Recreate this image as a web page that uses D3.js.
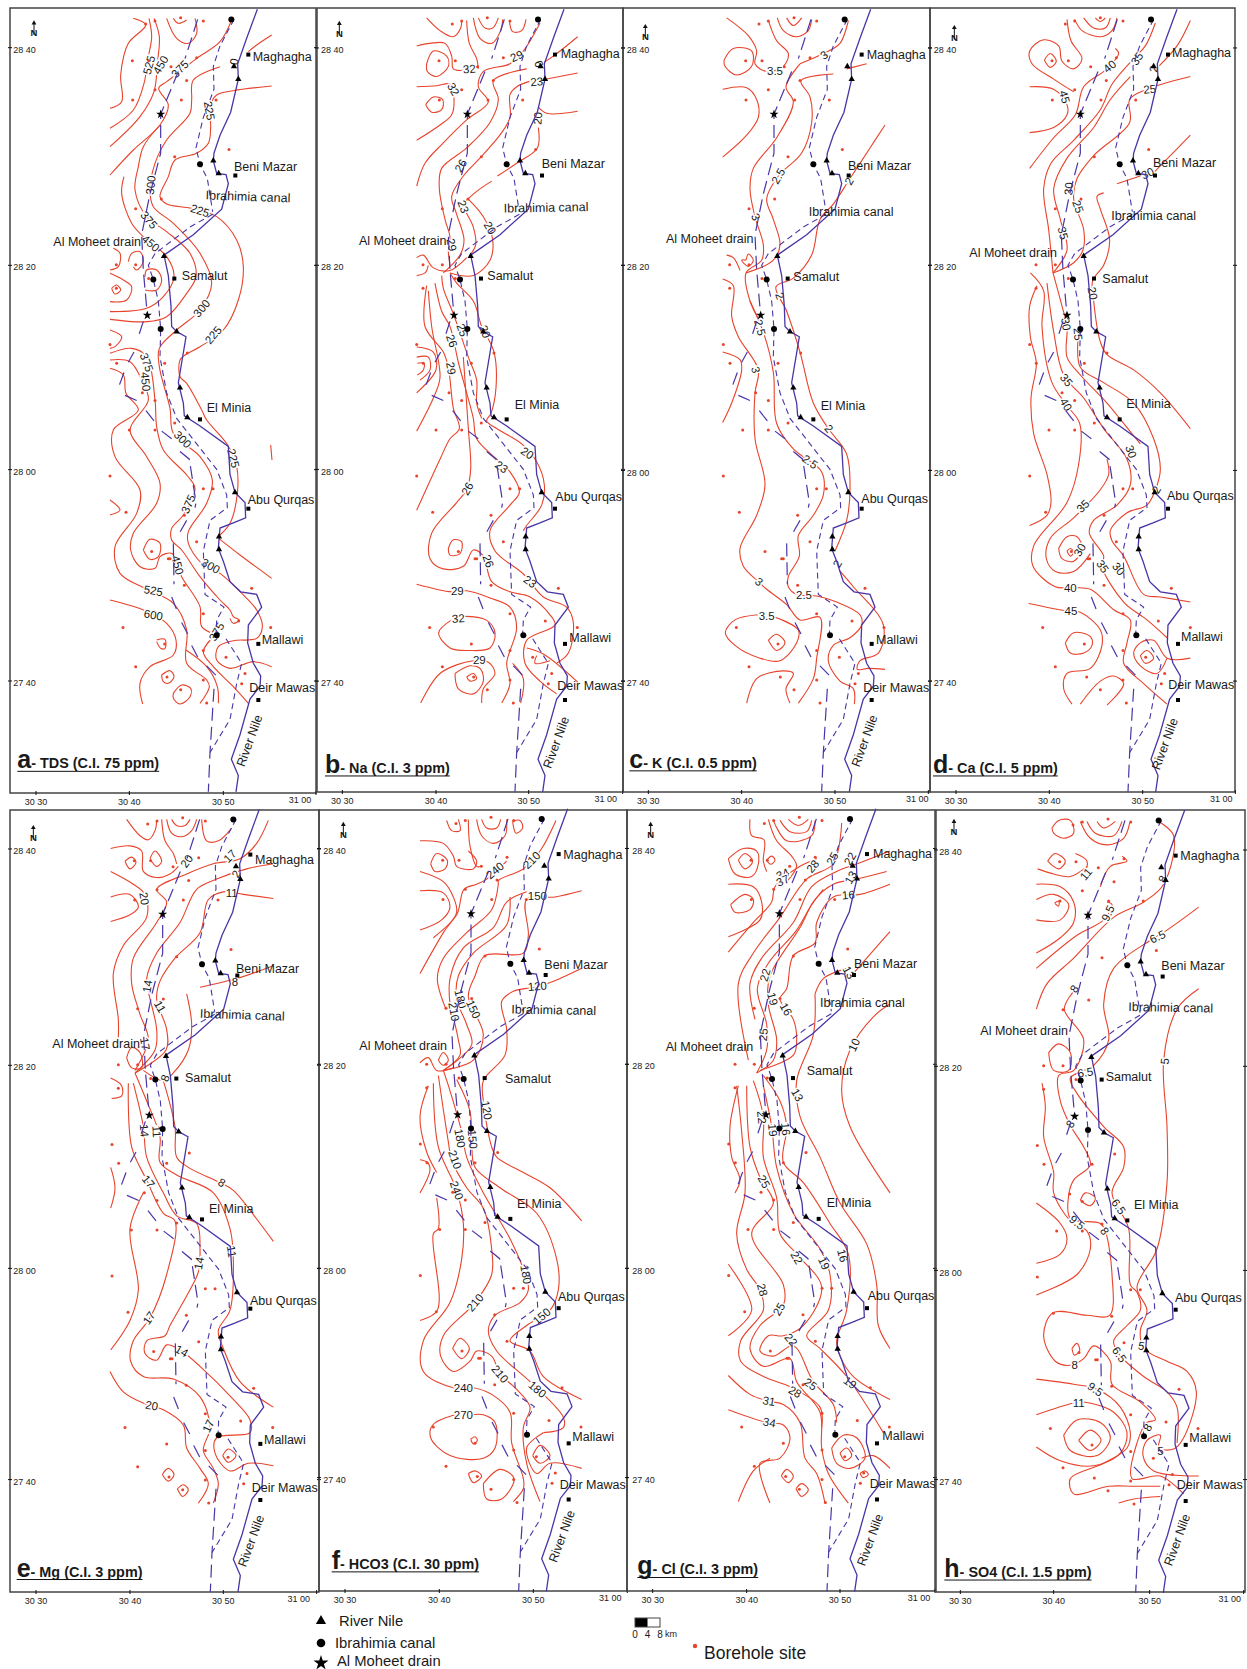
<!DOCTYPE html>
<html><head><meta charset="utf-8">
<script src="https://cdn.jsdelivr.net/npm/d3@7"></script>
<style>html,body{margin:0;background:#fff}svg{display:block}text{font-family:"Liberation Sans",Arial,sans-serif;fill:#1a1a1a}</style>
</head><body><svg id="c" width="1247" height="1669"></svg>
<script>
// ---------- shared base map, in survey-grid units ----------
const riverNile=[[762,18],[730,75],[703,125],[705,155],[682,220],[650,265],[632,300],[630,315],[640,340],[668,342],[675,360],[655,410],[570,460],[482,500],[495,540],[503,600],[505,640],[520,650],[548,660],[525,750],[540,790],[543,815],[590,835],[675,875],[680,930],[695,965],[725,985],[727,1015],[690,1025],[650,1035],[645,1075],[660,1100],[680,1140],[712,1160],[760,1165],[775,1190],[735,1225],[733,1260],[750,1300],[772,1325],[770,1345],[740,1370],[710,1440],[684,1488],[705,1520],[698,1552]];
const ibrahimiaNorth=[[692,38],[650,90],[630,130],[632,175],[600,230],[578,290],[590,322],[612,350],[628,415]];
const ibrahimiaMid=[[628,420],[560,445],[455,497],[435,520],[450,548],[465,590],[472,645],[470,700],[490,770],[520,820],[580,870],[640,920],[670,970],[672,995],[620,1020],[600,1080],[605,1165],[662,1190],[640,1215],[638,1245]];
const ibrahimiaSouth=[[668,1252],[715,1300],[700,1340],[680,1410],[620,1475]];
const drainSegments=[[[583,38],[545,115]],[[525,140],[472,224],[472,300],[440,380],[415,460],[420,530],[432,618]],[[420,630],[405,660]],[[392,690],[375,710]],[[362,730],[348,755]],[[365,775],[400,785]],[[428,805],[452,825]],[[475,845],[505,860]],[[530,885],[558,900],[578,985],[575,995]],[[550,1020],[528,1045]],[[510,1065],[512,1145]],[[505,1170],[520,1195]],[[535,1220],[555,1245]],[[565,1265],[585,1290]],[[610,1305],[640,1325]],[[632,1350],[620,1475],[615,1552]]];
const riverSites=[[692,130],[705,155],[630,315],[646,340],[482,502],[520,650],[530,760],[552,818],[695,965],[647,1052],[647,1077]];
const canalSites=[[684,38],[590,322],[450,548],[472,645],[640,1245]];
const drainSites=[[472,224],[432,618]];
const townSquares=[[735,107],[696,344],[513,546],[590,822],[735,997],[765,1262],[765,1372]];
const boreholes=[[427,47],[455,41],[532,35],[600,41],[387,119],[436,119],[503,131],[580,113],[550,158],[455,176],[388,196],[534,196],[638,196],[514,307],[677,293],[474,390],[397,409],[339,519],[397,519],[436,546],[339,565],[320,675],[340,712],[552,692],[484,712],[417,770],[455,785],[378,843],[455,843],[514,829],[320,933],[368,1004],[600,958],[629,958],[543,1010],[580,1062],[445,1081],[495,1095],[500,1095],[543,1147],[745,1153],[600,1203],[706,1217],[802,1230],[359,1230],[484,1262],[600,1275],[668,1288],[397,1307],[725,1320],[600,1333],[715,1340],[532,1352],[491,1327],[610,1378]];
const townNames=["Maghagha","Beni Mazar","Ibrahimia canal","Al Moheet drain","Samalut","El Minia","Abu Qurqas","Mallawi","Deir Mawas","River Nile"];
const lonLabels=["30 30","30 40","30 50","31 00"];
const latLabels=["28 40","28 20","28 00","27 40"];

// ---------- contour lines per panel (grid units) ----------
const contoursA=[
[[330,325],[365,305],[362,225],[385,130],[437,75],[400,55]],
[[330,385],[400,330],[432,250],[445,170],[455,110],[447,55]],
[[330,440],[420,350],[462,275],[472,190],[478,110],[462,55]],
[[330,525],[400,450],[480,375],[505,315],[476,265],[500,245],[540,215],[590,175],[660,125],[695,60]],
[[500,55],[530,115],[565,130],[590,100],[585,55]],
[[815,105],[770,135],[745,155]],
[[520,55],[535,70],[560,60]],
[[660,200],[580,240],[575,300],[570,340],[500,420],[465,490],[450,570],[460,620],[520,670],[600,760],[635,850],[600,930],[530,990],[478,1045],[478,1100],[510,1225],[520,1300],[600,1370],[637,1440],[620,1510],[565,1595],[565,1630],[605,1690],[660,1720],[720,1775],[770,1830],[787,1880],[770,1915],[700,1922],[655,1940],[650,1980],[690,2005],[760,1985],[815,2000]],
[[815,258],[700,272],[650,285],[630,320],[632,380],[625,430],[590,460],[525,480],[505,530],[480,590],[500,612],[575,625],[650,650],[710,720],[730,800],[715,900],[670,990],[600,1040],[555,1065],[540,1080],[540,1130],[560,1150],[605,1230],[620,1260],[683,1335],[710,1400],[712,1480],[690,1570],[660,1605]],
[[656,1615],[720,1665],[815,1735]],
[[372,530],[365,580],[395,670],[430,710],[500,770],[522,830],[490,890],[440,925],[330,935]],
[[480,375],[430,440],[415,500],[405,570],[440,650],[500,695],[570,760],[588,830],[560,880],[500,950],[440,965],[330,958]],
[[385,785],[395,760],[420,755],[430,785],[410,810],[400,800]],
[[330,810],[355,800],[360,760],[340,745]],
[[330,905],[380,900],[395,860],[370,840],[330,820]],
[[335,865],[350,855],[362,870],[345,882],[335,865]],
[[435,870],[470,870],[485,840],[470,810],[440,810],[435,830]],
[[330,990],[365,1010],[345,1040],[330,1045]],
[[330,1060],[395,1045],[440,1070],[465,1200],[470,1280],[490,1350],[560,1425],[585,1465],[550,1545],[515,1585],[515,1620],[545,1650],[600,1730],[660,1800],[690,1830],[700,1850],[718,1860],[700,1870],[690,1855]],
[[650,1900],[610,1955],[640,2000],[700,2060],[745,2110]],
[[330,1080],[390,1085],[425,1140],[445,1200],[390,1290],[440,1370],[480,1450],[470,1510],[400,1600],[392,1650],[420,1700],[465,1705],[480,1670],[515,1660],[530,1690],[545,1730],[600,1820],[605,1880],[650,1905]],
[[330,1105],[370,1125],[378,1180],[415,1230],[340,1290],[345,1370],[420,1470],[410,1540],[345,1640],[360,1720],[435,1765],[520,1810],[560,1890],[560,1990],[620,2040],[628,2060],[600,2110]],
[[558,1950],[620,2000],[652,2060],[655,2110]],
[[330,1800],[435,1832],[500,1870],[528,1920],[520,1965],[450,2000],[420,2050],[428,2112]],
[[430,1650],[450,1618],[480,1630],[475,1670],[450,1678],[430,1650]],
[[470,1920],[495,1918],[495,1945],[482,1945],[470,1925]],
[[485,2025],[510,2012],[522,2030],[505,2050],[490,2045],[485,2025]],
[[520,2080],[545,2055],[572,2065],[570,2090],[540,2112],[520,2095],[520,2080]],
[[330,1500],[360,1530],[330,1545]],
[[812,1335],[816,1380]]];
const contoursB=[
[[350,35],[390,60],[430,72],[452,55],[455,40]],
[[470,40],[478,85],[500,115],[505,135]],
[[490,35],[510,75],[545,85],[572,60],[578,38]],
[[505,35],[525,55],[548,55],[565,35]],
[[598,40],[608,62],[635,60],[648,38]],
[[350,125],[370,100],[410,110],[415,130],[380,150],[352,140],[350,125]],
[[320,90],[360,85],[405,85],[425,110],[430,135],[460,138],[505,130]],
[[320,170],[380,168],[420,165],[432,195],[425,225],[390,245],[320,275]],
[[347,205],[370,190],[398,195],[395,215],[365,220],[347,205]],
[[320,365],[345,320],[400,280],[470,235],[535,200],[505,170],[520,140],[600,125],[640,100],[690,45]],
[[650,135],[550,158],[565,195],[540,240],[470,290],[395,330],[388,370],[405,430],[420,465],[415,490],[420,520]],
[[665,158],[620,170],[600,185],[600,230],[575,260],[514,307],[460,345],[425,385],[440,420],[462,470],[450,500],[400,535]],
[[803,72],[730,110],[695,125]],[[803,143],[710,155]],[[803,218],[710,222],[685,210]],
[[685,250],[682,290],[620,320],[562,345]],
[[545,355],[500,375],[474,390],[460,400],[490,445],[497,480],[480,500]],
[[474,390],[520,425],[548,470],[540,510],[490,540],[420,535]],
[[320,505],[340,500],[370,525],[420,530],[470,505]],[[320,540],[345,535],[355,520]],
[[420,535],[440,555],[490,590],[515,640],[552,690],[558,760],[543,810],[530,825],[560,840],[635,870],[680,905],[703,950],[695,990],[650,1030],[640,1040]],
[[375,555],[395,610],[420,640],[445,710],[470,770],[490,820],[500,860],[560,900],[600,925],[628,965],[600,990],[540,1040],[555,1080],[640,1125],[700,1170],[770,1190],[790,1220],[775,1280],[740,1300]],
[[395,540],[400,565],[430,615],[475,700],[500,745],[500,790],[515,820]],
[[350,560],[345,640],[400,690],[415,720],[430,800],[448,840],[420,860],[390,900],[320,1000]],
[[460,700],[475,840],[482,920],[470,960],[440,985],[365,1045],[360,1095],[400,1115],[460,1110],[490,1078],[520,1090],[545,1140],[600,1160],[660,1170],[720,1205],[735,1225],[650,1255],[645,1300],[690,1335],[740,1360]],
[[320,680],[370,690],[378,725],[320,770]],[[320,700],[355,700],[360,725],[330,745]],[[322,712],[342,712],[340,725],[322,735]],
[[320,845],[370,780],[390,740],[365,640],[355,570]],
[[415,1075],[430,1058],[455,1062],[450,1085],[420,1088],[415,1075]],
[[320,1145],[425,1160],[470,1158],[540,1172],[600,1190],[620,1230],[590,1300],[600,1340],[575,1378]],
[[425,1215],[386,1240],[420,1270],[480,1275],[540,1270],[555,1240],[528,1215],[462,1208]],
[[332,1378],[390,1320],[490,1295],[535,1298],[555,1320],[520,1350],[515,1378]],
[[435,1320],[480,1305],[510,1310],[520,1335],[490,1360],[445,1350],[435,1320]],
[[470,1327],[490,1320],[500,1330],[480,1335],[470,1327]],
[[650,1270],[700,1282],[803,1337]],[[680,1285],[675,1300],[720,1295]],
[[608,1300],[640,1330],[632,1378]]];
const contoursC=[
[[320,35],[385,70],[410,100],[405,125],[440,140],[490,130],[505,105],[470,80],[445,40]],
[[312,118],[340,95],[395,100],[395,130],[350,147],[315,130],[312,118]],
[[472,35],[490,60],[530,72],[565,60],[575,38]],[[500,35],[520,50],[545,35]],
[[308,175],[380,172],[410,195],[415,230],[380,265],[308,308]],
[[540,125],[610,105],[660,85],[685,40]],
[[540,125],[498,170],[520,200],[470,270],[400,330],[390,370],[405,425],[430,480],[425,510],[378,535],[390,590],[420,630]],
[[640,145],[543,158],[570,190],[575,240],[545,300],[475,345],[440,390],[460,430],[480,480],[460,510],[378,535]],
[[795,245],[750,290],[690,350],[640,400],[600,430],[575,500],[520,545],[468,562],[500,610],[540,690],[580,790],[625,840],[680,890],[690,960],[680,1020],[645,1080]],
[[740,125],[680,135]],
[[378,510],[385,498],[400,510],[385,522],[365,510],[378,510]],
[[320,500],[340,505],[360,530]],
[[308,547],[340,560],[335,620],[355,660],[415,725],[405,770],[405,860],[435,950],[410,1010],[360,1075],[370,1110],[415,1140],[440,1155],[500,1185],[540,1215],[600,1210],[590,1290],[580,1330],[535,1378]],
[[308,690],[360,705],[365,725],[335,790],[308,828]],
[[390,590],[432,655],[460,730],[470,830],[520,880],[605,925],[610,970],[580,1010],[535,1050],[538,1090],[505,1130],[505,1150],[530,1165],[590,1168],[650,1180],[720,1205],[725,1225],[690,1250],[640,1265],[625,1295],[660,1335],[700,1350],[703,1380]],
[[415,1205],[345,1215],[316,1240],[345,1265],[420,1290],[480,1295],[530,1260],[535,1235],[465,1210]],
[[445,1255],[470,1243],[495,1260],[470,1275],[445,1255]],
[[380,1378],[410,1330],[490,1315],[520,1320],[498,1350],[510,1378]],
[[658,1118],[700,1150],[790,1225],[775,1280],[720,1295],[712,1312],[745,1310],[795,1312]]];
const contoursD=[
[[420,38],[432,80],[465,115],[440,135],[405,120],[395,90],[350,78],[308,100],[315,125],[380,155],[440,180]],
[[308,170],[380,175],[420,205],[420,225],[380,250],[308,260]],
[[308,330],[380,270],[445,225],[470,170],[540,135],[575,105],[565,95]],
[[352,118],[370,105],[388,120],[370,132],[352,118]],
[[443,38],[465,60],[520,72],[555,60],[570,35]],[[470,35],[500,55],[535,55],[550,35]],[[505,35],[520,42],[535,35]],
[[685,45],[655,90],[620,115],[555,165],[520,215],[440,275],[372,320],[350,370],[365,450],[378,535]],
[[790,40],[750,90],[695,130]],
[[610,150],[550,195],[500,250],[420,310],[380,370],[400,430],[420,490],[378,535]],
[[790,150],[660,175],[608,195],[608,240],[500,305],[450,350],[440,390],[470,450],[468,490],[440,515],[378,535]],
[[530,378],[510,385],[520,410],[548,470],[530,520],[497,550],[500,590],[520,670],[540,695],[620,725],[700,770],[790,840]],
[[790,265],[730,305],[670,345]],[[640,345],[570,360]],
[[378,535],[405,600],[420,640],[420,700],[460,735],[540,790],[590,830],[640,870]],
[[455,650],[460,720],[530,750],[620,790],[680,860],[700,920],[685,960],[660,990],[600,1005],[550,1040],[555,1060],[590,1090],[650,1165],[700,1170],[790,1180]],
[[360,555],[380,650],[410,735],[470,780],[530,840],[600,900],[610,950],[570,990],[500,1020],[487,1045],[530,1090],[525,1110],[590,1180],[660,1215],[720,1250]],
[[310,535],[350,570],[345,640],[375,750],[420,795],[458,830],[455,910],[420,985],[320,1070],[318,1110],[385,1150],[430,1152],[490,1155],[560,1195],[610,1215],[600,1260],[590,1300],[650,1340],[720,1380]],
[[305,1183],[415,1197],[460,1200],[520,1235],[525,1265],[490,1310],[420,1320],[410,1350],[435,1380]],
[[330,560],[308,600],[310,660],[328,712],[312,780],[320,850],[360,930],[372,985],[360,1010],[308,1030]],
[[540,900],[545,930],[520,960],[440,1015],[370,1055],[358,1095],[385,1120],[440,1120],[490,1085]],
[[395,1075],[420,1052],[450,1052],[465,1075],[440,1100],[405,1095],[395,1075]],
[[420,1080],[430,1075],[440,1082],[430,1090],[420,1080]],
[[415,1260],[440,1240],[490,1248],[495,1265],[470,1280],[430,1280],[415,1260]],
[[460,1380],[520,1335],[560,1325],[590,1340],[540,1382]],
[[790,1290],[720,1290],[680,1255],[640,1260],[620,1280],[640,1305],[690,1320],[720,1290]],
[[640,1285],[660,1275],[680,1290],[655,1300],[640,1285]]];
const contoursE=[
[[380,38],[420,70],[445,78],[465,60],[470,40]],
[[485,38],[495,80],[520,105],[530,125]],
[[500,38],[515,65],[545,72],[575,60],[590,38]],[[515,38],[530,50],[555,50],[570,38]],
[[605,38],[620,80],[655,80],[695,55]],
[[332,95],[390,90],[425,100],[430,140],[470,152],[510,145],[535,130]],
[[375,120],[395,112],[408,122],[390,135],[375,120]],
[[450,115],[465,100],[485,120],[470,130],[450,115]],
[[332,140],[400,165],[435,185],[440,230],[370,285],[340,340],[355,430],[355,465]],
[[332,190],[390,185],[415,210],[390,225],[332,238]],
[[805,40],[770,85],[720,115],[640,125],[560,145],[470,175],[500,200],[470,240],[400,310],[395,360],[420,420],[445,470],[405,530]],
[[820,125],[740,135],[650,155],[590,175],[540,240],[470,300],[440,350],[445,375],[470,450],[465,490],[405,535]],
[[820,193],[730,185],[670,180],[625,195],[600,260],[525,310],[480,355],[470,390],[500,450],[498,490],[405,535]],
[[820,325],[710,350],[600,367]],
[[560,380],[575,440],[565,490],[520,535],[490,550],[430,530]],
[[380,505],[395,485],[420,495],[425,525],[395,525],[380,505]],
[[332,545],[365,560],[365,580],[335,585]],
[[490,550],[525,640],[530,700],[565,720],[660,750],[700,765],[780,830],[820,865]],
[[405,535],[440,590],[480,660],[480,710],[530,735],[640,770],[690,840],[700,900],[690,1000],[655,1040],[670,1075],[720,1140],[820,1190]],
[[400,555],[430,640],[440,700],[490,770],[530,815],[590,830],[600,880],[595,925],[570,960],[510,1030],[495,1050],[440,1060],[435,1085],[470,1098],[500,1068],[540,1078],[600,1110],[700,1175],[750,1215],[750,1240],[650,1250],[645,1280],[690,1315],[745,1300],[820,1305]],
[[385,555],[395,680],[440,745],[490,810],[525,825],[500,930],[450,1015],[400,1060],[392,1100],[430,1130],[520,1135],[600,1170],[630,1230],[610,1275],[640,1310],[655,1340],[640,1378]],
[[330,1120],[370,1160],[440,1185],[490,1195],[550,1225],[560,1270],[600,1310],[625,1340],[595,1378]],
[[332,720],[345,760],[332,800]],
[[430,770],[390,840],[415,960],[390,1020],[332,1078]],
[[668,1285],[685,1272],[708,1285],[685,1298],[668,1285]],
[[487,1322],[505,1310],[522,1322],[505,1335],[487,1322]],
[[532,1350],[550,1342],[565,1352],[548,1365],[532,1350]]];
const contoursF=[
[[410,40],[425,60],[450,60],[445,38]],
[[475,38],[480,90],[500,130],[515,130]],
[[500,38],[515,70],[550,85],[585,70],[590,38]],[[515,38],[530,55],[560,55],[572,38]],
[[608,42],[630,40],[638,55],[618,65],[608,42]],
[[330,80],[400,85],[430,110],[440,130],[490,135],[500,120],[475,100]],
[[362,125],[380,105],[412,118],[405,135],[375,140],[362,125]],
[[330,140],[400,160],[430,190],[440,220],[400,260],[330,340]],
[[330,178],[400,182],[420,210],[395,235],[330,255]],
[[370,270],[440,225],[462,175],[500,165],[530,155],[590,120]],
[[408,410],[382,350],[400,310],[470,260],[545,215],[565,165],[565,158],[640,135],[690,100],[738,40]],
[[420,400],[420,350],[460,290],[550,250],[590,200],[650,180]],
[[815,178],[735,190],[650,195],[655,265],[640,300],[525,305],[495,345],[475,385],[520,460],[490,510],[400,530]],
[[815,330],[750,350],[690,365],[610,375],[575,395],[590,450],[585,500],[520,550],[520,590],[545,680],[560,700],[640,730],[720,760],[815,825]],
[[600,190],[590,245],[490,300],[445,345],[440,390],[470,440],[485,480],[400,530]],
[[420,400],[445,470],[450,500],[400,530]],
[[330,515],[355,505],[380,530],[430,525]],[[385,510],[400,495],[415,510],[400,520],[385,510]],
[[400,530],[420,570],[455,650],[470,700],[520,770],[600,860],[640,920],[655,960],[630,985],[555,1010],[535,1040],[560,1080],[660,1140],[760,1210],[760,1230],[700,1240]],
[[440,548],[480,610],[485,670],[495,720],[570,760],[680,810],[740,900],[745,960],[720,1000],[650,1030],[600,1060],[660,1080],[700,1130],[815,1175]],
[[385,540],[415,670],[425,705],[470,760],[520,800],[545,880],[545,930],[495,985],[400,1050],[392,1090],[430,1120],[480,1100],[500,1080],[545,1090],[570,1125],[620,1155],[660,1190],[640,1230],[650,1300],[690,1375]],
[[370,555],[385,680],[440,765],[460,830],[455,900],[420,985],[340,1060],[340,1120],[430,1152],[490,1152],[545,1165],[600,1200],[605,1260],[640,1330],[640,1350],[610,1375]],
[[428,1075],[450,1055],[478,1075],[455,1095],[428,1075]],
[[435,1205],[368,1225],[362,1250],[420,1285],[520,1290],[555,1270],[555,1220],[520,1205],[485,1205]],
[[482,1253],[495,1248],[502,1255],[490,1262],[482,1253]],
[[330,705],[352,710],[360,725],[330,770]],
[[355,560],[330,620],[350,690],[380,730]],
[[380,780],[385,840],[370,850],[382,1000],[330,1020]],
[[475,1320],[495,1315],[515,1325],[490,1338],[475,1320]],
[[520,1340],[570,1312],[612,1330],[575,1370],[530,1370],[520,1340]],
[[668,1285],[690,1265],[720,1285],[690,1300],[668,1285]],
[[700,1240],[650,1270],[680,1320],[720,1300],[815,1310]]];
const contoursG=[
[[390,38],[395,70],[432,78],[430,120],[440,140]],
[[460,40],[500,80],[575,70],[585,40]],[[480,40],[510,62],[560,62],[575,40]],[[505,38],[535,50],[565,38]],
[[445,38],[470,80],[515,110],[530,130],[500,160]],
[[355,118],[375,105],[398,120],[375,135],[355,118]],
[[325,115],[370,95],[410,100],[415,125],[395,150],[345,145],[325,115]],
[[440,118],[455,110],[465,118],[452,126],[440,118]],
[[325,165],[400,170],[425,200],[420,235],[325,268]],
[[332,205],[375,185],[400,195],[390,215],[345,220],[332,205]],
[[325,298],[400,240],[455,200],[465,170],[540,130],[590,115]],
[[385,510],[355,360],[400,300],[480,230],[560,155],[640,125],[665,45]],
[[405,430],[390,360],[425,310],[520,240],[575,170],[650,140],[712,125],[810,100]],
[[810,165],[720,185],[640,190],[590,240],[585,280],[520,305],[500,370],[480,390],[520,430],[530,470],[520,500],[420,530]],
[[810,258],[740,310],[700,340]],
[[410,535],[460,510],[470,470],[445,400],[450,345],[540,250],[585,195],[640,165],[710,155],[800,140]],
[[410,535],[440,490],[440,440],[412,370],[445,320],[530,255],[575,205],[610,175]],
[[585,380],[610,350],[680,330]],
[[585,380],[580,460],[530,550],[540,620],[600,700],[660,790],[740,870],[770,950],[775,1030],[810,1075]],
[[810,400],[760,425],[690,490],[665,570],[690,640],[810,770]],
[[430,540],[480,590],[500,640],[490,710],[550,750],[630,830],[685,890],[680,1000],[650,1060],[660,1090],[700,1130],[810,1175]],
[[430,560],[455,640],[470,720],[520,810],[600,880],[630,930],[625,1000],[560,1050],[600,1075],[680,1130],[790,1240]],
[[400,550],[430,620],[430,700],[470,780],[480,850],[530,890],[605,955],[550,1030],[490,1050],[445,1050],[420,1080],[460,1090],[520,1070],[580,1140],[640,1185],[650,1220]],
[[380,560],[390,680],[420,740],[460,790],[395,850],[490,950],[490,990],[420,1030],[390,1075],[430,1110],[510,1095],[530,1140],[600,1200],[605,1270],[625,1320],[685,1378]],
[[350,560],[365,650],[375,770],[350,850],[380,920],[420,960],[430,1000],[362,1060],[362,1100],[430,1130],[510,1150],[600,1190],[605,1230]],
[[355,560],[330,640],[335,700],[360,745],[345,770]],
[[325,910],[395,1000],[325,1050]],
[[325,1128],[390,1165],[445,1178],[490,1185],[540,1220],[555,1290],[590,1320],[615,1378]],
[[325,1195],[440,1220],[490,1225],[510,1250],[480,1290],[420,1300],[450,1378]],
[[355,1375],[400,1315],[450,1290]],
[[484,1325],[500,1312],[520,1325],[505,1338],[484,1325]],
[[528,1350],[545,1340],[565,1352],[545,1365],[528,1350]],
[[660,1280],[680,1270],[695,1285],[675,1295],[660,1280]],
[[635,1270],[670,1245],[710,1250],[735,1290],[690,1310],[650,1300],[635,1270]],
[[810,1310],[760,1285],[725,1290]],
[[720,1320],[735,1315],[745,1322],[730,1328],[720,1320]]];
const contoursH=[
[[375,55],[395,40],[430,40],[440,65],[410,75],[380,65],[375,55]],
[[460,42],[490,75],[540,88],[590,75],[608,45]],[[480,42],[505,65],[560,70],[585,42]],[[510,42],[530,55],[565,42]],
[[332,135],[380,145],[430,150],[480,130]],
[[362,120],[385,105],[415,120],[395,135],[362,120]],
[[445,105],[480,120],[470,150]],
[[328,165],[400,170],[440,200],[440,240],[400,270],[328,300]],
[[328,195],[380,185],[425,205],[400,235],[328,235]],
[[383,202],[395,198],[395,208],[383,202]],
[[520,170],[550,130],[600,120],[585,110]],
[[328,330],[450,265],[530,235],[555,205],[540,200]],
[[328,410],[360,360],[440,310],[560,230],[650,200],[710,165],[740,70],[695,42]],
[[440,375],[412,410],[470,470],[440,530],[395,540],[400,590],[432,640],[470,680],[490,715],[440,745],[425,775],[430,820],[520,830],[535,845],[555,930],[548,1010],[480,1010],[378,1005],[350,1050],[385,1100],[430,1108],[470,1095],[500,1070],[550,1100],[555,1145],[640,1180],[685,1215],[660,1220],[630,1260],[615,1330],[700,1325],[770,1360]],
[[815,210],[720,255],[670,275],[560,330],[530,400],[545,470],[500,520],[430,545],[450,575],[530,640],[590,680],[590,720],[555,770],[605,840],[610,950],[630,965],[640,1000],[600,1030],[560,1060],[575,1085],[650,1130],[720,1160],[750,1190],[750,1260]],
[[815,370],[750,410],[710,510],[720,640],[720,750],[690,880],[630,955],[660,1000],[640,1040],[650,1075],[720,1100],[780,1120],[808,1160],[770,1250],[740,1272],[695,1270],[700,1245],[660,1255],[648,1285],[680,1315],[815,1325]],
[[365,495],[395,478],[430,495],[425,530],[380,530],[365,495]],
[[345,555],[355,600],[350,660],[380,730],[380,770],[430,825],[480,845],[490,880],[450,930],[328,970]],
[[328,790],[400,830],[420,860],[400,890],[328,908]],
[[460,785],[475,770],[505,780],[490,795],[460,785]],
[[435,1075],[450,1065],[458,1080],[442,1088],[435,1075]],
[[328,1135],[440,1145],[510,1155],[580,1190],[610,1240],[600,1270],[530,1300],[430,1330],[440,1360],[545,1345],[620,1345],[700,1345]],
[[328,1205],[440,1182],[470,1180],[560,1200],[600,1240],[580,1280],[500,1305],[400,1295],[328,1268]],
[[410,1245],[450,1215],[520,1220],[550,1250],[510,1285],[430,1275],[410,1245]],
[[455,1255],[490,1235],[522,1255],[490,1275],[455,1255]],
[[575,1378],[620,1370],[700,1365]]];

// ---------- contour value labels: value, x, y, rotation ----------
const valuesA=[["525",447,195,-75],["450",482,195,-60],["375",540,207,-45],["225",628,332,80],["0",702,185,-80],["300",452,555,-85],["225",600,632,18],["375",447,660,50],["450",452,730,40],["300",605,925,-50],["225",640,1005,-50],["375",440,1087,70],["450",437,1145,85],["225",700,1375,75],["300",548,1318,45],["375",565,1512,-65],["450",533,1695,75],["300",632,1698,30],["525",460,1772,10],["600",460,1845,10],["375",650,1895,-60]];
const valuesB=[["29",620,110,-25],["32",478,135,-5],["32",430,175,60],["6",687,125,70],["23",680,160,-5],["20",683,232,-85],["26",452,325,-60],["23",460,405,70],["20",540,447,60],["29",425,480,80],["20",525,650,70],["25",457,647,70],["26",425,668,70],["29",423,722,80],["20",652,888,35],["23",575,915,35],["26",472,958,-60],["26",535,1100,70],["23",660,1140,35],["29",442,1158,0],["32",445,1212,-5],["29",508,1293,0]];
const valuesC=[["3",612,108,-35],["3.5",465,140,0],["2.5",475,345,-60],["2",687,355,-60],["3",407,425,65],["2",480,580,70],["2.5",420,642,75],["3",407,725,75],["2",627,840,50],["2.5",570,905,35],["2",652,1105,-60],["3",417,1140,40],["2.5",552,1166,0],["3.5",440,1207,0]];
const valuesD=[["40",548,130,-40],["35",630,115,-55],["2",680,135,-80],["45",413,190,75],["25",668,175,-5],["30",662,340,-25],["30",425,370,-85],["25",453,405,70],["35",408,457,75],["20",497,575,80],["30",417,635,80],["25",453,655,85],["35",418,745,50],["40",417,793,60],["30",612,885,70],["2",688,960,-60],["35",468,992,-45],["30",458,1078,-60],["35",527,1110,55],["30",575,1115,50],["40",430,1152,0],["45",432,1197,0]];
const valuesE=[["17",690,110,-45],["20",560,120,-55],["2",708,145,-60],["20",433,193,80],["11",695,183,0],["8",705,357,0],["14",442,365,-80],["11",480,405,60],["17",435,478,80],["8",495,545,-70],["14",433,648,85],["11",470,650,85],["8",665,750,30],["17",445,748,50],["11",695,885,80],["14",597,908,-80],["17",447,1015,-55],["14",545,1080,30],["20",455,1187,10],["17",625,1227,-65]];
const valuesF=[["210",665,118,-45],["240",555,138,-40],["150",682,188,0],["120",682,365,-5],["180",452,390,75],["210",432,415,80],["150",490,410,65],["120",530,608,80],["180",450,663,80],["150",488,665,85],["210",435,705,70],["240",440,765,70],["180",648,930,80],["210",495,985,-50],["150",695,1012,-40],["210",570,1125,50],["180",682,1155,40],["240",460,1152,0],["270",460,1205,0]];
const valuesG=[["25",637,115,-60],["28",578,130,-50],["34",488,145,-25],["37",488,158,-25],["22",690,115,-60],["13",692,152,-60],["16",685,186,-5],["13",687,338,60],["22",435,343,-75],["19",458,390,75],["16",498,410,60],["10",702,480,-65],["25",430,460,-85],["13",532,578,60],["22",425,622,85],["19",458,647,85],["16",497,645,85],["25",432,748,60],["16",668,893,75],["19",612,908,65],["22",530,897,60],["28",427,960,75],["25",477,998,-60],["22",513,1058,50],["19",690,1142,35],["25",572,1145,35],["28",525,1160,30],["31",447,1178,10],["34",448,1220,10]];
const valuesH=[["11",477,145,-50],["9.5",543,222,-65],["8",707,155,-65],["6.5",692,268,-25],["8",442,370,-55],["5",713,512,-85],["6.5",475,534,-10],["8",430,635,-55],["6.5",575,797,55],["9.5",450,828,40],["8",533,845,55],["5",643,1070,10],["6.5",577,1087,55],["8",443,1108,0],["9.5",505,1155,35],["11",455,1181,0],["8",662,1230,-60],["5",700,1275,0]];

// ---------- town label anchors: x, y, rotation, one per entry of townNames ----------
const townsA=[[758,170,0],[702,500,0],[617,585,2],[160,725,0],[545,827,0],[620,1222,0],[743,1498,0],[785,1918,0],[748,2062,0],[748,2222,-70]];
const townsB=[[752,105,0],[695,320,0],[581,408,-1],[147,472,0],[532,540,0],[614,793,0],[736,973,0],[778,1250,0],[742,1343,0],[738,1455,-70]];
const townsC=[[740,108,0],[684,324,0],[566,415,0],[138,467,0],[520,543,0],[602,796,0],[724,977,0],[768,1253,0],[730,1347,0],[733,1452,-70]];
const townsD=[[735,103,0],[678,318,0],[553,422,0],[127,495,0],[526,546,0],[598,791,0],[720,971,0],[762,1247,0],[724,1342,0],[713,1458,-70]];
const townsE=[[765,116,0],[708,330,0],[600,418,2],[157,477,0],[555,544,0],[627,800,0],[750,981,0],[792,1253,0],[755,1347,0],[753,1452,-70]];
const townsF=[[760,108,0],[703,322,0],[604,410,1],[148,482,0],[585,547,0],[621,792,0],[744,973,0],[787,1247,0],[749,1341,0],[755,1443,-70]];
const townsG=[[759,106,0],[702,320,0],[600,397,0],[137,483,0],[560,530,0],[620,790,0],[743,971,0],[787,1245,0],[749,1339,0],[750,1450,-70]];
const townsH=[[760,110,0],[703,324,0],[604,405,1],[160,453,0],[536,542,0],[621,794,0],[744,975,0],[787,1249,0],[749,1341,0],[750,1450,-70]];

// ---------- panel list ----------
const panelLetters=["a","b","c","d","e","f","g","h"];
const panelTitles=["- TDS (C.I. 75 ppm)","- Na (C.I. 3 ppm)","- K (C.I. 0.5 ppm)","- Ca (C.I. 5 ppm)","- Mg (C.I. 3 ppm)","- HCO3 (C.I. 30 ppm)","- Cl (C.I. 3 ppm)","- SO4 (C.I. 1.5 ppm)"];
const panelContours=[contoursA,contoursB,contoursC,contoursD,contoursE,contoursF,contoursG,contoursH];
const panelValues=[valuesA,valuesB,valuesC,valuesD,valuesE,valuesF,valuesG,valuesH];
const panelTowns=[townsA,townsB,townsC,townsD,townsE,townsF,townsG,townsH];
// grid window of each panel on the page
const panelWindows=[[0,0,2400],[310,0,1568],[620,0,1568],[927,0,1568],[0,800,1568],[310,800,1568],[620,800,1568],[927,800,1568]];
const panelFrames=[[10,8,316,793],[317,8,623,792],[623,8,930,792],[930,8,1235,792],[10,810,319,1592],[319,810,627,1591],[627,810,935,1591],[936,810,1245,1592]];
const baseShift=[[10,0],[0,0],[-10,0],[-12,0],[16,0],[11,-1],[6,-1],[11,2]];
const lonTicks=[[108,388,670,948],[97,378,656,938],[85,365,645,925],[87,367,647,925],[108,390,670,950],[105,388,670,952],[98,380,660,945],[100,380,668,950]];
const latTicks=[[143,796,1409,2043],[94,520,920,1335],[94,520,922,1335],[94,520,922,1335],[96,520,918,1332],[95,518,918,1328],[95,518,918,1328],[98,522,922,1332]];
const latLabelX=[40,33,20,20,40,40,37,37];
const lastLonLabelShift=[-16,-17,-11,-14,-18,-17,-16,-14];
const northMarks=[[102,90],[88,60],[76,66],[82,68],[100,68],[100,62],[92,62],[81,56]];
const titleAnchors=[[52,2305],[45,1515],[28,1505],[18,1515],[50,1522],[65,1507],[52,1518],[52,1523]];

const RED="#e8432b",BLUE="#4a35a6";
const svg=d3.select("#c");
const star5=d3.symbol().type(d3.symbolStar);
const tri=d3.symbol().type(d3.symbolTriangle);
const contourLine=d3.line().curve(d3.curveCatmullRom.alpha(0.5));
const straight=d3.line();

panelLetters.forEach((letter,i)=>{
  const [cx,cy,gridH]=panelWindows[i];
  const X=d3.scaleLinear().domain([0,960]).range([cx,cx+320]);
  const Y=d3.scaleLinear().domain([0,gridH]).range([cy,cy+800]);
  const [sx,sy]=baseShift[i];
  const BX=d3.scaleLinear().domain([-sx,960-sx]).range([cx,cx+320]);
  const BY=d3.scaleLinear().domain([-sy,1568-sy]).range([cy,cy+800]);
  const g=svg.append("g");
  const pt=d=>[X(d[0]),Y(d[1])], bp=d=>[BX(d[0]),BY(d[1])];
  const [l,t,r,b]=panelFrames[i];
  g.append("rect").attr("x",l).attr("y",t).attr("width",r-l).attr("height",b-t).attr("fill","none").attr("stroke","#444").attr("stroke-width",1.5);
  g.append("g").selectAll("path").data(panelContours[i]).join("path")
    .attr("d",d=>contourLine(d.map(pt))).attr("fill","none").attr("stroke",RED).attr("stroke-width",1.1);
  g.append("g").selectAll("text").data(panelValues[i]).join("text")
    .attr("transform",d=>`translate(${X(d[1])},${Y(d[2])}) rotate(${d[3]})`)
    .attr("text-anchor","middle").attr("dy","0.35em").attr("font-size",11.5)
    .attr("stroke","#fff").attr("stroke-width",3).attr("paint-order","stroke").text(d=>d[0]);
  g.append("path").attr("d",straight(riverNile.map(bp))).attr("fill","none").attr("stroke",BLUE).attr("stroke-width",1.3);
  g.append("g").selectAll("path").data([ibrahimiaNorth,ibrahimiaMid,ibrahimiaSouth]).join("path")
    .attr("d",d=>straight(d.map(bp))).attr("fill","none").attr("stroke",BLUE).attr("stroke-width",1.1).attr("stroke-dasharray","6 4");
  g.append("g").selectAll("path").data(drainSegments).join("path")
    .attr("d",d=>straight(d.map(bp))).attr("fill","none").attr("stroke",BLUE).attr("stroke-width",1.2).attr("stroke-dasharray","13 6");
  g.append("g").selectAll("circle").data(boreholes).join("circle")
    .attr("cx",d=>BX(d[0])).attr("cy",d=>BY(d[1])).attr("r",1.5).attr("fill",RED);
  g.append("g").selectAll("path").data(riverSites).join("path")
    .attr("d",tri.size(17)()).attr("transform",d=>`translate(${BX(d[0])},${BY(d[1])})`).attr("fill","#000");
  g.append("g").selectAll("circle").data(canalSites).join("circle")
    .attr("cx",d=>BX(d[0])).attr("cy",d=>BY(d[1])).attr("r",3).attr("fill","#000");
  g.append("g").selectAll("path").data(drainSites).join("path")
    .attr("d",star5.size(26)()).attr("transform",d=>`translate(${BX(d[0])},${BY(d[1])})`).attr("fill","#000");
  g.append("g").selectAll("rect").data(townSquares).join("rect")
    .attr("x",d=>BX(d[0])-2).attr("y",d=>BY(d[1])-2).attr("width",4).attr("height",4).attr("fill","#000");
  g.append("g").selectAll("text").data(panelTowns[i]).join("text")
    .attr("transform",d=>`translate(${X(d[0])},${Y(d[1])}) rotate(${d[2]})`)
    .attr("dy","0.35em").attr("font-size",12.5)
    .attr("text-anchor",(d,k)=>k===9?"middle":"start").text((d,k)=>townNames[k]);
  lonTicks[i].forEach((v,k)=>{
    g.append("line").attr("x1",X(v)).attr("x2",X(v)).attr("y1",b-2).attr("y2",b+2).attr("stroke","#111");
    g.append("text").attr("x",X(v)+(k===3?lastLonLabelShift[i]:0)).attr("y",(k===3?b+7:b+9)).attr("dy","0.35em").attr("text-anchor","middle").attr("font-size",9).attr("fill","#333").text(lonLabels[k]);
  });
  latTicks[i].forEach((v,k)=>{
    g.append("line").attr("x1",l-2).attr("x2",l+2).attr("y1",Y(v)).attr("y2",Y(v)).attr("stroke","#111");
    g.append("line").attr("x1",r-2).attr("x2",r+2).attr("y1",Y(v)).attr("y2",Y(v)).attr("stroke","#111");
    g.append("text").attr("x",X(latLabelX[i])).attr("y",Y(v)+2).attr("dy","0.35em").attr("font-size",9).attr("fill","#333").text(latLabels[k]);
  });
  const [nx,ny]=northMarks[i];
  const nX=X(nx),nY=Y(ny);
  g.append("text").attr("x",nX).attr("y",nY+6).attr("text-anchor","middle").attr("font-size",9.5).attr("font-weight","bold").text("N");
  g.append("path").attr("d",`M${nX},${nY+5}V${nY-8}`).attr("stroke","#111");
  g.append("path").attr("d",tri.size(10)()).attr("transform",`translate(${nX},${nY-7})`).attr("fill","#111");
  const [tx,ty]=titleAnchors[i];
  const title=g.append("text").attr("x",X(tx)).attr("y",Y(ty)).attr("font-weight","bold");
  title.append("tspan").attr("font-size",25).text(letter);
  title.append("tspan").attr("font-size",14.4).text(panelTitles[i]);
  const w=title.node().getComputedTextLength();
  g.append("line").attr("x1",X(tx)).attr("x2",X(tx)+w).attr("y1",Y(ty)+3).attr("y2",Y(ty)+3).attr("stroke","#111").attr("stroke-width",1);
});

// ---------- legend ----------
const legendNames=["River Nile","Ibrahimia canal","Al Moheet drain"];
const legendAnchors=[[321,1621,339],[321,1643,335],[321,1661,337]];
legendNames.forEach((n,i)=>{
  const [x,y,tx]=legendAnchors[i];
  if(i===0) svg.append("path").attr("d",tri.size(45)()).attr("transform",`translate(${x},${y})`).attr("fill","#000");
  if(i===1) svg.append("circle").attr("cx",x).attr("cy",y).attr("r",4.3).attr("fill","#000");
  if(i===2) svg.append("path").attr("d",star5.size(70)()).attr("transform",`translate(${x},${y+2})`).attr("fill","#000");
  svg.append("text").attr("x",tx).attr("y",y).attr("dy","0.35em").attr("font-size",14.8).text(n);
});
const scaleKm=[0,4,8];
const kmX=d3.scaleLinear().domain([0,8]).range([635,660]);
svg.append("rect").attr("x",kmX(0)).attr("y",1618).attr("width",kmX(4)-kmX(0)).attr("height",9).attr("fill","#000");
svg.append("rect").attr("x",kmX(0)).attr("y",1618).attr("width",kmX(8)-kmX(0)).attr("height",9).attr("fill","none").attr("stroke","#444");
scaleKm.forEach(v=>svg.append("text").attr("x",kmX(v)).attr("y",1634).attr("dy","0.35em").attr("text-anchor","middle").attr("font-size",10).text(v));
svg.append("text").attr("x",665).attr("y",1634).attr("dy","0.35em").attr("font-size",9).text("km");
svg.append("circle").attr("cx",695).attr("cy",1646).attr("r",2.2).attr("fill",RED);
svg.append("text").attr("x",704).attr("y",1653).attr("dy","0.35em").attr("font-size",17.5).text("Borehole site");
</script></body></html>
